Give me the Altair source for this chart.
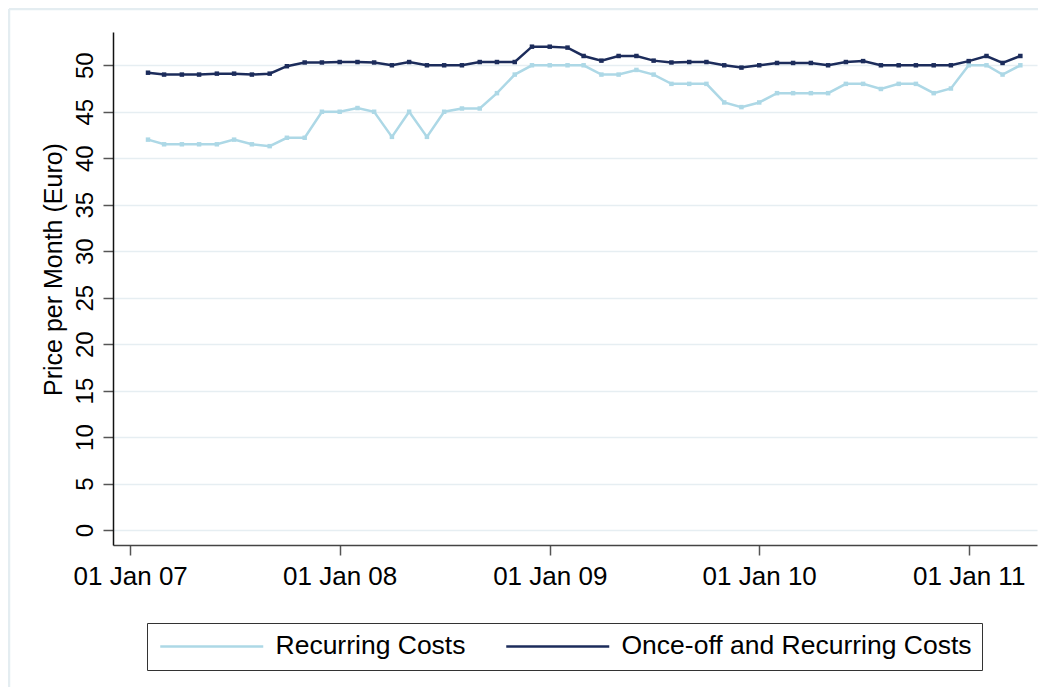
import altair as alt
import pandas as pd

months = [
    "2007-02", "2007-03", "2007-04", "2007-05", "2007-06", "2007-07", "2007-08",
    "2007-09", "2007-10", "2007-11", "2007-12",
    "2008-01", "2008-02", "2008-03", "2008-04", "2008-05", "2008-06", "2008-07",
    "2008-08", "2008-09", "2008-10", "2008-11", "2008-12",
    "2009-01", "2009-02", "2009-03", "2009-04", "2009-05", "2009-06", "2009-07",
    "2009-08", "2009-09", "2009-10", "2009-11", "2009-12",
    "2010-01", "2010-02", "2010-03", "2010-04", "2010-05", "2010-06", "2010-07",
    "2010-08", "2010-09", "2010-10", "2010-11", "2010-12",
    "2011-01", "2011-02", "2011-03", "2011-04",
]

recurring = [
    42.0, 41.5, 41.5, 41.5, 41.5, 42.0, 41.5, 41.3, 42.2, 42.2, 45.0,
    45.0, 45.4, 45.0, 42.3, 45.0, 42.3, 45.0, 45.35, 45.35, 47.0, 49.0, 50.0,
    50.0, 50.0, 50.0, 49.0, 49.0, 49.5, 49.0, 48.0, 48.0, 48.0, 46.0, 45.5,
    46.0, 47.0, 47.0, 47.0, 47.0, 48.0, 48.0, 47.45, 48.0, 48.0, 47.0, 47.5,
    50.0, 50.0, 49.0, 50.0,
]

once_off = [
    49.2, 49.0, 49.0, 49.0, 49.1, 49.1, 49.0, 49.1, 49.9, 50.3, 50.3,
    50.35, 50.35, 50.3, 50.0, 50.35, 50.0, 50.0, 50.0, 50.35, 50.35, 50.35, 52.0,
    52.0, 51.9, 51.0, 50.5, 51.0, 51.0, 50.5, 50.3, 50.35, 50.35, 50.0, 49.75,
    50.0, 50.25, 50.25, 50.25, 50.0, 50.35, 50.45, 50.0, 50.0, 50.0, 50.0, 50.0,
    50.45, 51.0, 50.25, 51.0,
]

series_names = ["Recurring Costs", "Once-off and Recurring Costs"]
series_colors = ["#add8e6", "#1c2c5b"]
y_ticks = [0, 5, 10, 15, 20, 25, 30, 35, 40, 45, 50]
x_tick_years = [2007, 2008, 2009, 2010, 2011]

rows = []
for m, r, o in zip(months, recurring, once_off):
    rows.append({"date": m + "-01T00:00:00", "series": series_names[0], "value": r})
    rows.append({"date": m + "-01T00:00:00", "series": series_names[1], "value": o})
df = pd.DataFrame(rows)

FONT = "Liberation Sans"

x_enc = alt.X(
    "date:T",
    scale=alt.Scale(domain=[alt.DateTime(year=2006, month=12, date=2),
                            alt.DateTime(year=2011, month=4, date=30)]),
    axis=alt.Axis(
        values=[alt.DateTime(year=y, month=1, date=1) for y in x_tick_years],
        format="%d %b %y",
        title=None,
        grid=False,
        labelFontSize=26,
        labelFont=FONT,
        labelColor="black",
        labelPadding=8,
        labelFlush=False,
        labelOverlap=False,
        tickSize=10,
        tickColor="#555555",
        tickWidth=1.5,
        domainColor="#444444",
        domainWidth=1.5,
    ),
)

y_enc = alt.Y(
    "value:Q",
    scale=alt.Scale(domain=[-1.61, 53.58], nice=False, zero=False),
    axis=alt.Axis(
        values=y_ticks,
        title="Price per Month (Euro)",
        titleFontSize=25,
        titleFont=FONT,
        titleFontWeight="normal",
        titleColor="black",
        titleAngle=270,
        titleAlign="center",
        titleBaseline="alphabetic",
        titleX=-52,
        titleY=237,
        labelAngle=270,
        labelAlign="center",
        labelBaseline="alphabetic",
        labelFontSize=24,
        labelFont=FONT,
        labelColor="black",
        labelPadding=11,
        labelFlush=False,
        labelOverlap=False,
        tickSize=10,
        tickColor="#555555",
        tickWidth=1.5,
        domainColor="#111111",
        domainWidth=1.5,
        grid=True,
        gridColor="#e6eef2",
        gridWidth=1.5,
    ),
)

color_enc = alt.Color(
    "series:N",
    scale=alt.Scale(domain=series_names, range=series_colors),
    sort=series_names,
    legend=alt.Legend(
        orient="none",
        legendX=34,
        legendY=591,
        direction="horizontal",
        title=None,
        symbolType="M-1,0H9.3",
        symbolSize=400,
        symbolStrokeWidth=2.5,
        labelFontSize=26.5,
        labelFont=FONT,
        labelColor="black",
        labelOffset=92,
        labelLimit=1000,
        columnPadding=35,
        padding=10,
        strokeColor="#333333",
        fillColor="white",
    ),
)

lines = alt.Chart(df).mark_line(
    strokeWidth=2.5,
    point=alt.OverlayMarkDef(shape="square", size=20, filled=True),
).encode(x=x_enc, y=y_enc, color=color_enc)

frame_df = pd.DataFrame({"k": [0]})
frame_left = alt.Chart(frame_df).mark_rule(color="#e4edf1", strokeWidth=2.5).encode(
    x=alt.value(-104), y=alt.value(-23), y2=alt.value(663)
)
frame_top = alt.Chart(frame_df).mark_rule(color="#e4edf1", strokeWidth=2.5).encode(
    x=alt.value(-104), x2=alt.value(925), y=alt.value(-23)
)

chart = alt.layer(frame_left, frame_top, lines).properties(
    width=924,
    height=513,
    autosize="none",
    padding={"left": 105, "top": 24, "right": 6, "bottom": 142},
    background="white",
).configure_view(strokeWidth=0)

chart.save("out.html", embed_options={"renderer": "svg", "actions": False})
